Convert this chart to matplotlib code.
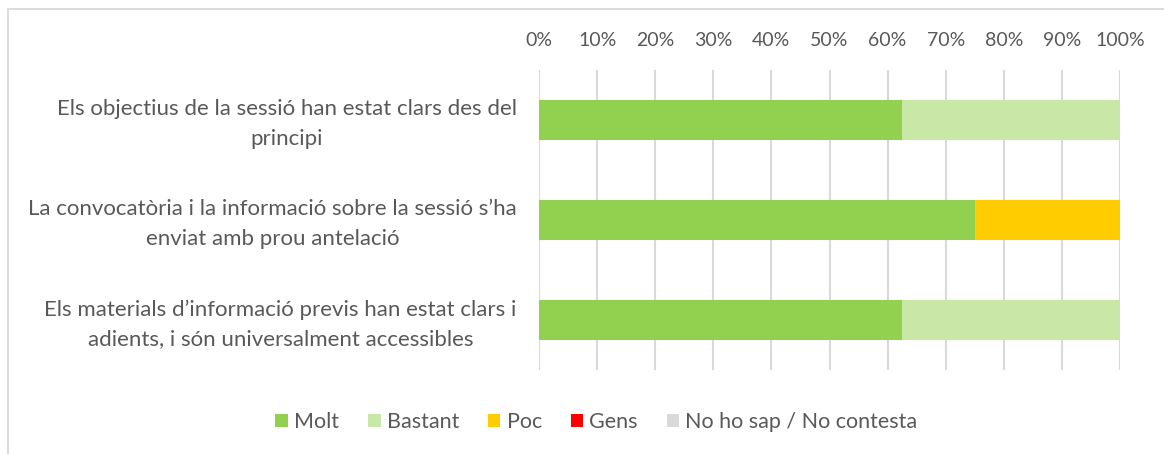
import matplotlib
matplotlib.use("Agg")
import matplotlib.pyplot as plt
import matplotlib.transforms as mtransforms
from matplotlib.patches import Rectangle, Patch

categories = [
    "Els objectius de la sessió han estat clars des del\nprincipi",
    "La convocatòria i la informació sobre la sessió s’ha\nenviat amb prou antelació",
    "Els materials d’informació previs han estat clars i\nadients, i són universalment accessibles",
]
series_names = ["Molt", "Bastant", "Poc", "Gens", "No ho sap / No contesta"]
values = {
    "Molt": [62.5, 75.0, 62.5],
    "Bastant": [37.5, 0.0, 37.5],
    "Poc": [0.0, 25.0, 0.0],
    "Gens": [0.0, 0.0, 0.0],
    "No ho sap / No contesta": [0.0, 0.0, 0.0],
}
colors = ["#92d050", "#c9e7a7", "#ffcc00", "#ff0000", "#d9d9d9"]
tick_vals = list(range(0, 101, 10))
tick_labels = [f"{t}%" for t in tick_vals]

plt.rcParams['font.family'] = ['Lato', 'DejaVu Sans']
text_color = "#595959"

fig = plt.figure(figsize=(11.64, 4.54), dpi=100)
W, H = 1164, 454
ax = fig.add_axes([539 / W, 1 - 370 / H, (1120 - 539) / W, 300 / H])

# chart frame
fig.patches.append(Rectangle((8 / W, -0.1), 1.2, 1 - 9 / H + 0.1, transform=fig.transFigure,
                             fill=False, edgecolor="#d9d9d9", linewidth=1.3, zorder=0))

ypos = list(range(len(categories)))
left = [0.0] * len(categories)
for name, c in zip(series_names, colors):
    v = values[name]
    ax.barh(ypos, v, left=left, height=0.4, color=c, label=name, zorder=3)
    left = [l + x for l, x in zip(left, v)]

ax.set_xlim(0, 100)
ax.set_ylim(2.5, -0.5)
ax.set_xticks(tick_vals)
ax.set_xticklabels(tick_labels)
ax.xaxis.tick_top()
ax.tick_params(axis='x', length=0, pad=15, labelsize=14, labelcolor=text_color)
ax.set_yticks(ypos)
ax.set_yticklabels(categories, ha='right', va='center', multialignment='center', linespacing=1.6)
ax.tick_params(axis='y', length=0, labelsize=16, labelcolor=text_color, pad=16)
offset = mtransforms.ScaledTranslation(0, -3 / 72, fig.dpi_scale_trans)
for lbl in ax.get_yticklabels():
    lbl.set_transform(lbl.get_transform() + offset)
ax.grid(axis='x', color="#d9d9d9", linewidth=1.5, zorder=0)
ax.set_axisbelow(True)
for s in ax.spines.values():
    s.set_visible(False)

handles = [Patch(facecolor=c, edgecolor='none') for c in colors]
leg = fig.legend(handles, series_names, loc='center', bbox_to_anchor=(596.5 / W, 1 - 422 / H),
                 ncol=5, frameon=False, fontsize=15.5, handlelength=0.58, handleheight=0.58,
                 handletextpad=0.28, columnspacing=1.35, borderpad=0, borderaxespad=0)
for t in leg.get_texts():
    t.set_color(text_color)

fig.savefig("out.png", dpi=100)
